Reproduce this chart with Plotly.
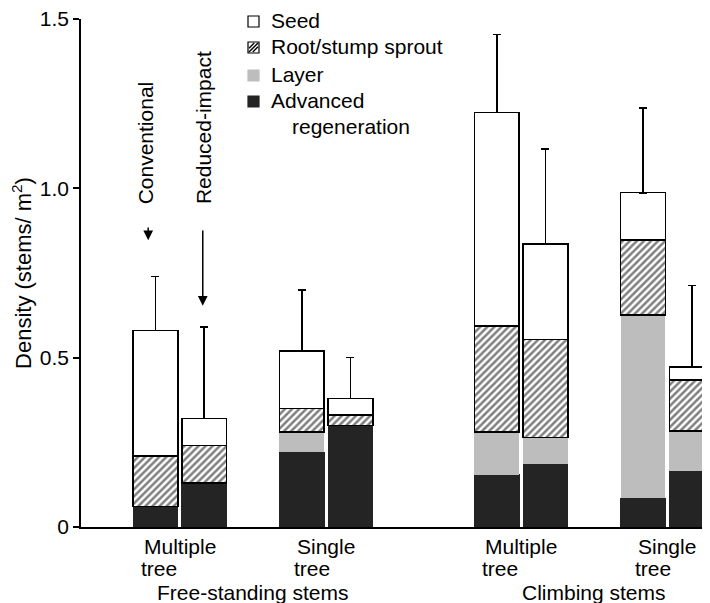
import plotly.graph_objects as go

# ---------------- data ----------------
bar_labels = ["FS-Multiple-Conv", "FS-Multiple-RI", "FS-Single-Conv", "FS-Single-RI",
              "CS-Multiple-Conv", "CS-Multiple-RI", "CS-Single-Conv", "CS-Single-RI"]
advanced = [0.06, 0.13, 0.22, 0.30, 0.154, 0.185, 0.085, 0.165]
layer    = [0.00, 0.00, 0.06, 0.00, 0.127, 0.080, 0.541, 0.119]
root     = [0.15, 0.11, 0.07, 0.03, 0.313, 0.289, 0.221, 0.150]
seed     = [0.37, 0.08, 0.17, 0.05, 0.630, 0.282, 0.140, 0.039]
err_up   = [0.16, 0.27, 0.18, 0.12, 0.230, 0.280, 0.250, 0.240]

pair_line1 = ["Multiple", "Single", "Multiple", "Single"]
pair_line2 = ["tree", "tree", "tree", "tree"]
group_labels = ["Free-standing stems", "Climbing stems"]
legend_labels = ["Seed", "Root/stump sprout", "Layer", "Advanced"]
legend_extra = "regeneration"
tick_vals = [0, 0.5, 1.0, 1.5]
tick_text = ["0", "0.5", "1.0", "1.5"]

# ---------------- layout helpers ----------------
OFF = 8                      # page body margin of the html page
W, H = 710 - OFF, 603 - OFF
ML, MR, MT, MB = 81 - OFF, 0, 19 - OFF, 76
PW, PH = W - ML - MR, H - MT - MB


def px2x(px):                # page pixel -> paper
    return (px - OFF - ML) / PW


def py2y(py):
    return (H - MB - (py - OFF)) / PH


pair_start = [0, 3, 7, 10]
xpos = []
for s in pair_start:
    xpos += [s, s + 1]
pair_centers = [s + 0.5 for s in pair_start]
group_centers = [(pair_centers[0] + pair_centers[1]) / 2, (pair_centers[2] + pair_centers[3]) / 2]

FONT = "Liberation Sans, Arial, Helvetica, sans-serif"
FS = 21
tfont = dict(size=FS, color="black", family=FONT)
line = dict(color="black", width=1.5)
BW = 0.92
DARK = "#242424"
LIGHT = "#bdbdbd"

fig = go.Figure()
fig.add_trace(go.Bar(x=xpos, y=advanced, width=BW, name="Advanced regeneration",
                     marker=dict(color=DARK, line=dict(color=DARK, width=1))))
fig.add_trace(go.Bar(x=xpos, y=layer, width=BW, name="Layer",
                     marker=dict(color=LIGHT, line=dict(color=LIGHT, width=0))))
fig.add_trace(go.Bar(x=xpos, y=root, width=BW, name="Root/stump sprout",
                     marker=dict(color="white", line=line,
                                 pattern=dict(shape="/", bgcolor="white", fgcolor="black",
                                              size=5, solidity=0.5))))
fig.add_trace(go.Bar(x=xpos, y=seed, width=BW, name="Seed",
                     marker=dict(color="white", line=line),
                     error_y=dict(type="data", symmetric=False, array=err_up,
                                  arrayminus=[0] * len(err_up), color="black",
                                  thickness=1.6, width=4)))

annotations = []
shapes = []
# category labels: two lines, second line left-aligned with the first
for c, t1 in zip(pair_centers, pair_line1):
    annotations.append(dict(x=c, y=py2y(546), xref="x", yref="paper", text=t1,
                            showarrow=False, xanchor="center", yanchor="middle", font=tfont))
for c, t1, t2 in zip(pair_centers, pair_line1, pair_line2):
    annotations.append(dict(x=c, y=py2y(568), xref="x", yref="paper", text=t2,
                            showarrow=False, xanchor="right", yanchor="middle", font=tfont,
                            xshift=(-(3.445 if t1 == "Multiple" else 2.779) * FS / 2
                                    + 1.668 * FS)))
for c, t in zip(group_centers, group_labels):
    annotations.append(dict(x=c, y=py2y(592), xref="x", yref="paper", text=t, showarrow=False,
                            xanchor="center", yanchor="middle", font=tfont))

# treatment labels with arrows
annotations.append(dict(x=-0.2, y=1.135, xref="x", yref="y", text="Conventional", textangle=-90,
                        showarrow=False, font=tfont))
annotations.append(dict(x=0.99, y=1.18, xref="x", yref="y", text="Reduced-impact", textangle=-90,
                        showarrow=False, font=tfont))
annotations.append(dict(x=-0.15, y=0.847, ax=-0.15, ay=0.889, xref="x", yref="y", axref="x", ayref="y",
                        text="", showarrow=True, arrowhead=2, arrowsize=1.3, arrowwidth=1.5,
                        arrowcolor="black"))
annotations.append(dict(x=0.97, y=0.653, ax=0.97, ay=0.88, xref="x", yref="y", axref="x", ayref="y",
                        text="", showarrow=True, arrowhead=2, arrowsize=1.3, arrowwidth=1.5,
                        arrowcolor="black"))

# custom legend
leg_text_x = 269
leg_sq_x0, leg_sq_x1 = 248, 259
leg_rows = [20.5, 46.5, 74.5, 100.5]
for lab, cy in zip(legend_labels, leg_rows):
    annotations.append(dict(x=px2x(leg_text_x), y=py2y(cy), xref="paper", yref="paper", text=lab,
                            showarrow=False, xanchor="left", yanchor="middle", font=tfont))
annotations.append(dict(x=px2x(290), y=py2y(127), xref="paper", yref="paper", text=legend_extra,
                        showarrow=False, xanchor="left", yanchor="middle", font=tfont))
fills = ["white", "white", LIGHT, DARK]
for i, (cy, fc) in enumerate(zip(leg_rows, fills)):
    y0, y1 = cy - 4.5, cy + 6.5
    shapes.append(dict(type="rect", xref="paper", yref="paper",
                       x0=px2x(leg_sq_x0), x1=px2x(leg_sq_x1), y0=py2y(y1), y1=py2y(y0),
                       fillcolor=fc, line=dict(color="black" if i < 2 else fc, width=1.2)))
    if i == 1:
        for k in range(3):
            off = (k - 1) * 3.8
            shapes.append(dict(type="line", xref="paper", yref="paper",
                               x0=px2x(leg_sq_x0 + 1 + max(0, off)), y0=py2y(y1 - 1 + min(0, off)),
                               x1=px2x(leg_sq_x1 - 1 + min(0, off)), y1=py2y(y0 + 1 + max(0, off)),
                               line=dict(color="black", width=1.4)))

fig.update_layout(
    width=W, height=H,
    margin=dict(l=ML, r=MR, t=MT, b=MB, autoexpand=False),
    barmode="stack",
    paper_bgcolor="white", plot_bgcolor="white",
    font=dict(family=FONT, size=FS, color="black"),
    showlegend=False,
    annotations=annotations,
    shapes=shapes,
    xaxis=dict(range=[-1.528, 11.375], showgrid=False, zeroline=False, showticklabels=False,
               ticks="", showline=True, linecolor="black", linewidth=1.5),
    yaxis=dict(range=[0, 1.5], tickvals=tick_vals, ticktext=tick_text, ticks="outside",
               ticklen=6, tickwidth=1.5, tickcolor="black", showgrid=False, zeroline=False,
               showline=True, linecolor="black", linewidth=1.5,
               tickfont=tfont, ticklabeloverflow="allow",
               title=dict(text="Density (stems/ m<sup>2</sup>)", standoff=12,
                          font=dict(size=22, color="black", family=FONT))),
)

fig.write_html("out.html")
